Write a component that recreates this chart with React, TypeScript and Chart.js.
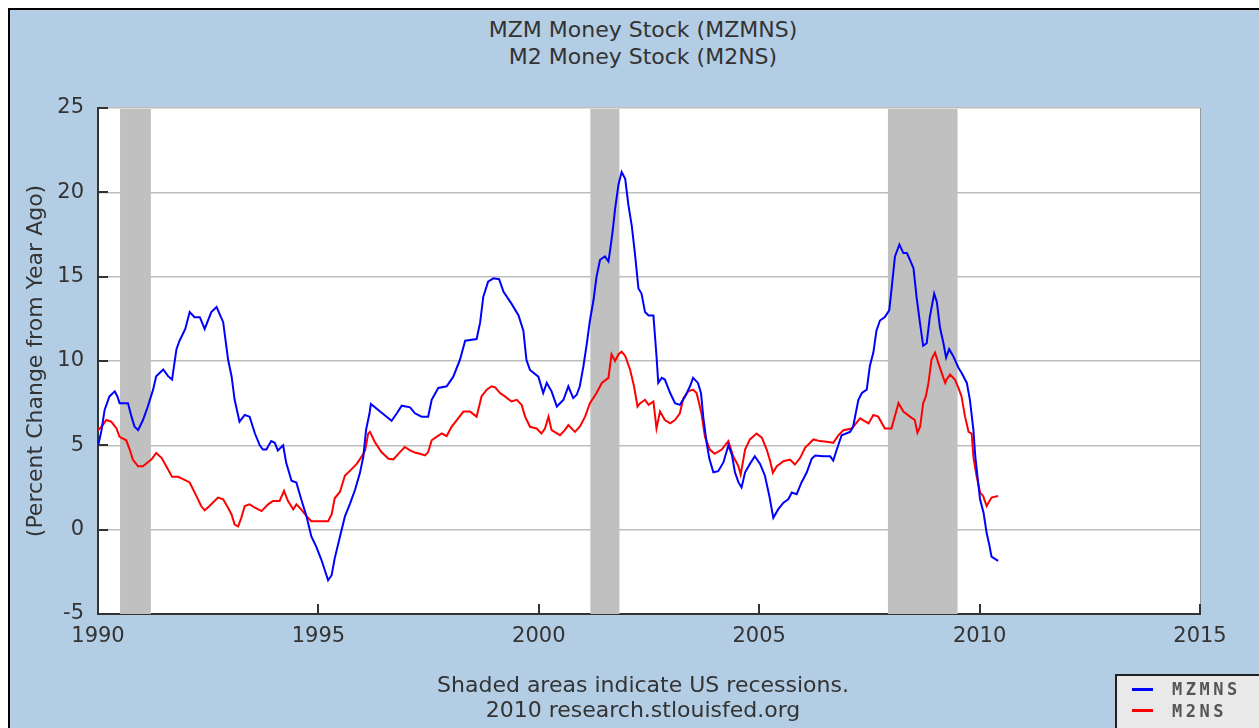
import React, { useEffect, useRef } from "react";
import { Chart, registerables } from "chart.js";

Chart.register(...registerables);

// ---- Data (percent change from year ago) ----
const mzmYears = [
  1990.0, 1990.08, 1990.15, 1990.26, 1990.38, 1990.44, 1990.49, 1990.68, 1990.76, 1990.83,
  1990.91, 1991.02, 1991.13, 1991.25, 1991.32, 1991.48, 1991.59, 1991.68, 1991.78, 1991.85,
  1991.98, 1992.08, 1992.19, 1992.31, 1992.42, 1992.57, 1992.69, 1992.84, 1992.95, 1993.03,
  1993.1, 1993.21, 1993.33, 1993.44, 1993.56, 1993.67, 1993.74, 1993.82, 1993.93, 1994.01,
  1994.08, 1994.2, 1994.27, 1994.39, 1994.5, 1994.61, 1994.73, 1994.84, 1994.95, 1995.07,
  1995.22, 1995.3, 1995.37, 1995.49, 1995.6, 1995.72, 1995.83, 1995.94, 1996.02, 1996.08,
  1996.16, 1996.19, 1996.4, 1996.66, 1996.78, 1996.89, 1997.08, 1997.19, 1997.34, 1997.49,
  1997.57, 1997.72, 1997.91, 1998.06, 1998.21, 1998.33, 1998.59, 1998.67, 1998.74, 1998.85,
  1998.97, 1999.1, 1999.2, 1999.38, 1999.54, 1999.65, 1999.72, 1999.8, 1999.99, 2000.1,
  2000.18, 2000.29, 2000.41, 2000.56, 2000.67, 2000.78, 2000.86, 2000.93, 2001.01, 2001.09,
  2001.16, 2001.24, 2001.31, 2001.39, 2001.5, 2001.58, 2001.62, 2001.68, 2001.73, 2001.81,
  2001.88, 2001.96, 2002.03, 2002.11, 2002.18, 2002.26, 2002.33, 2002.41, 2002.49, 2002.6,
  2002.67, 2002.71, 2002.79, 2002.86, 2002.98, 2003.09, 2003.2, 2003.32, 2003.43, 2003.5,
  2003.61, 2003.68, 2003.73, 2003.81, 2003.87, 2003.96, 2004.07, 2004.19, 2004.3, 2004.38,
  2004.45, 2004.53, 2004.6, 2004.68, 2004.79, 2004.9, 2005.02, 2005.13, 2005.23, 2005.32,
  2005.43, 2005.55, 2005.66, 2005.74, 2005.85, 2005.96, 2006.08, 2006.19, 2006.27, 2006.46,
  2006.61, 2006.68, 2006.76, 2006.87, 2007.06, 2007.13, 2007.25, 2007.33, 2007.44, 2007.51,
  2007.59, 2007.66, 2007.74, 2007.85, 2007.95, 2008.0, 2008.08, 2008.18, 2008.27, 2008.35,
  2008.42, 2008.5, 2008.57, 2008.65, 2008.72, 2008.8, 2008.87, 2008.97, 2009.03, 2009.1,
  2009.18, 2009.24, 2009.31, 2009.4, 2009.52, 2009.59, 2009.71, 2009.78, 2009.86, 2009.9,
  2009.95, 2010.01, 2010.09, 2010.16, 2010.22, 2010.27, 2010.42,
];
const mzmValues = [
  4.95, 5.9, 7.1, 7.9, 8.2, 7.9, 7.5, 7.5, 6.7, 6.1,
  5.9, 6.5, 7.3, 8.3, 9.1, 9.5, 9.1, 8.9, 10.7, 11.2,
  11.9, 12.9, 12.6, 12.6, 11.9, 12.9, 13.2, 12.3, 10.1, 9.1,
  7.7, 6.4, 6.8, 6.7, 5.7, 5.0, 4.75, 4.75, 5.25, 5.15,
  4.7, 5.0, 3.96, 2.9, 2.8, 1.8, 0.8, -0.4, -1.0, -1.8,
  -3.0, -2.7, -1.7, -0.4, 0.77, 1.56, 2.35, 3.34, 4.33, 5.9,
  6.9, 7.45, 7.0, 6.46, 6.9, 7.35, 7.25, 6.9, 6.7, 6.7,
  7.7, 8.4, 8.5, 9.07, 10.06, 11.2, 11.3, 12.3, 13.8, 14.7,
  14.9, 14.85, 14.1, 13.4, 12.7, 11.8, 10.06, 9.47, 9.07, 8.1,
  8.7, 8.2, 7.3, 7.7, 8.5, 7.8, 8.0, 8.5, 9.66, 11.05,
  12.4, 13.6, 15.0, 16.0, 16.2, 15.9, 16.6, 17.8, 19.0, 20.5,
  21.2, 20.8, 19.3, 18.0, 16.4, 14.3, 14.0, 12.9, 12.7, 12.7,
  10.3, 8.7, 9.0, 8.9, 8.1, 7.5, 7.4, 7.9, 8.5, 9.0,
  8.7, 8.1, 6.7, 5.1, 4.2, 3.4, 3.47, 4.0, 5.0, 4.45,
  3.4, 2.8, 2.5, 3.4, 3.9, 4.35, 3.9, 3.2, 2.0, 0.7,
  1.2, 1.6, 1.8, 2.2, 2.1, 2.8, 3.4, 4.2, 4.4, 4.35,
  4.35, 4.1, 4.75, 5.6, 5.8, 6.1, 7.7, 8.1, 8.3, 9.7,
  10.5, 11.8, 12.4, 12.6, 13.0, 14.2, 16.2, 16.9, 16.4, 16.4,
  16.0, 15.5, 13.8, 12.2, 10.9, 11.05, 12.6, 14.0, 13.5, 12.0,
  11.05, 10.2, 10.7, 10.3, 9.6, 9.3, 8.7, 7.7, 5.9, 4.4,
  3.2, 1.8, 1.0, -0.2, -0.9, -1.6, -1.85,
];

const m2Years = [
  1990.0, 1990.08, 1990.19, 1990.3, 1990.42, 1990.49, 1990.64, 1990.72, 1990.79, 1990.91,
  1991.02, 1991.13, 1991.21, 1991.32, 1991.44, 1991.55, 1991.68, 1991.82, 1991.93, 1992.08,
  1992.23, 1992.34, 1992.42, 1992.53, 1992.72, 1992.84, 1992.95, 1993.03, 1993.1, 1993.18,
  1993.25, 1993.33, 1993.44, 1993.56, 1993.71, 1993.86, 1993.97, 1994.12, 1994.22, 1994.31,
  1994.43, 1994.5, 1994.61, 1994.73, 1994.84, 1995.22, 1995.3, 1995.37, 1995.49, 1995.6,
  1995.72, 1995.87, 1995.98, 1996.06, 1996.13, 1996.17, 1996.28, 1996.43, 1996.59, 1996.7,
  1996.85, 1996.96, 1997.08, 1997.19, 1997.3, 1997.42, 1997.49, 1997.57, 1997.68, 1997.8,
  1997.91, 1998.02, 1998.14, 1998.29, 1998.44, 1998.59, 1998.7, 1998.82, 1998.93, 1999.01,
  1999.12, 1999.23, 1999.38, 1999.5, 1999.61, 1999.69, 1999.8, 1999.95, 2000.06, 2000.14,
  2000.22, 2000.29, 2000.48, 2000.59, 2000.67, 2000.82, 2000.93, 2001.05, 2001.16, 2001.31,
  2001.43, 2001.58, 2001.65, 2001.73, 2001.81, 2001.88, 2001.96, 2002.07, 2002.16, 2002.24,
  2002.3, 2002.41, 2002.49, 2002.6, 2002.67, 2002.75, 2002.86, 2002.98, 2003.09, 2003.2,
  2003.28, 2003.39, 2003.5, 2003.58, 2003.69, 2003.77, 2003.88, 2003.99, 2004.15, 2004.3,
  2004.41, 2004.53, 2004.58, 2004.68, 2004.79, 2004.94, 2005.06, 2005.17, 2005.25, 2005.31,
  2005.4, 2005.55, 2005.7, 2005.81, 2005.93, 2006.04, 2006.23, 2006.38, 2006.57, 2006.68,
  2006.8, 2006.91, 2007.1, 2007.29, 2007.48, 2007.59, 2007.7, 2007.85, 2008.0, 2008.16,
  2008.27, 2008.42, 2008.53, 2008.59, 2008.65, 2008.72, 2008.78, 2008.84, 2008.91, 2008.99,
  2009.06, 2009.14, 2009.22, 2009.25, 2009.33, 2009.44, 2009.52, 2009.59, 2009.67, 2009.75,
  2009.82, 2009.86, 2009.93, 2010.01, 2010.08, 2010.16, 2010.27, 2010.42,
];
const m2Values = [
  5.9, 6.1, 6.5, 6.4, 6.0, 5.5, 5.3, 4.75, 4.16, 3.76,
  3.76, 4.0, 4.16, 4.55, 4.26, 3.76, 3.13, 3.13, 3.0, 2.8,
  2.0, 1.4, 1.15, 1.4, 1.9, 1.8, 1.3, 0.9, 0.3, 0.2,
  0.7, 1.4, 1.5, 1.3, 1.1, 1.5, 1.7, 1.7, 2.3, 1.7,
  1.2, 1.5, 1.2, 0.8, 0.5, 0.5, 0.9, 1.86, 2.25, 3.2,
  3.5, 3.9, 4.33, 4.7, 5.7, 5.8, 5.2, 4.6, 4.2, 4.17,
  4.6, 4.9, 4.7, 4.57, 4.5, 4.4, 4.6, 5.3, 5.5, 5.7,
  5.55, 6.1, 6.5, 7.0, 7.0, 6.7, 7.9, 8.3, 8.5, 8.44,
  8.1, 7.9, 7.6, 7.7, 7.4, 6.7, 6.1, 6.0, 5.7, 6.0,
  6.7, 5.9, 5.6, 5.9, 6.2, 5.8, 6.1, 6.7, 7.5, 8.1,
  8.7, 9.0, 10.4, 10.0, 10.4, 10.55, 10.3, 9.5, 8.5, 7.3,
  7.5, 7.7, 7.4, 7.6, 6.0, 7.0, 6.5, 6.3, 6.5, 6.9,
  7.8, 8.2, 8.3, 8.1, 6.9, 5.5, 4.75, 4.5, 4.75, 5.25,
  4.35, 3.76, 3.27, 4.75, 5.35, 5.7, 5.45, 4.75, 4.06, 3.37,
  3.76, 4.06, 4.16, 3.86, 4.26, 4.85, 5.35, 5.25, 5.2, 5.15,
  5.6, 5.9, 6.0, 6.6, 6.3, 6.8, 6.7, 6.0, 6.0, 7.5,
  7.0, 6.7, 6.5, 5.75, 6.1, 7.5, 7.9, 8.7, 10.1, 10.5,
  9.9, 9.3, 8.7, 8.9, 9.2, 8.9, 8.4, 7.9, 6.7, 5.8,
  5.7, 4.3, 3.2, 2.2, 2.0, 1.4, 1.9, 2.0,
];

const recessionStarts = [1990.5, 2001.17, 2007.92];
const recessionEnds = [1991.2, 2001.83, 2009.5];

const yTickValues = [-5, 0, 5, 10, 15, 20, 25];
const xTickValues = [1990, 1995, 2000, 2005, 2010, 2015];

const titleLines = ["MZM Money Stock (MZMNS)", "M2 Money Stock (M2NS)"];
const footerLines = ["Shaded areas indicate US recessions.", "2010 research.stlouisfed.org"];
const seriesLabels = ["MZMNS", "M2NS"];
const seriesColors = ["#0000ff", "#ff0000"];

const FONT = "'DejaVu Sans', Verdana, sans-serif";
const TEXT = "#333333";

const recessionPlugin = {
  id: "recessions",
  beforeDraw(chart: any) {
    const { ctx, chartArea } = chart;
    ctx.save();
    ctx.fillStyle = "#ffffff";
    ctx.fillRect(chartArea.left, chartArea.top, chartArea.right - chartArea.left, chartArea.bottom - chartArea.top);
    ctx.restore();
  },
  beforeDatasetsDraw(chart: any) {
    const { ctx, chartArea, scales } = chart;
    const xs = scales.x;
    ctx.save();
    ctx.fillStyle = "#c0c0c0";
    for (let i = 0; i < recessionStarts.length; i++) {
      const a = xs.getPixelForValue(recessionStarts[i]);
      const b = xs.getPixelForValue(recessionEnds[i]);
      ctx.fillRect(a, chartArea.top + 1, b - a, chartArea.bottom - chartArea.top - 1);
    }
    ctx.restore();
  },
  afterDraw(chart: any) {
    const { ctx, chartArea, scales } = chart;
    ctx.save();
    // right border
    ctx.strokeStyle = "#9a9a9a";
    ctx.lineWidth = 1;
    ctx.beginPath();
    ctx.moveTo(chartArea.right + 0.5, chartArea.top);
    ctx.lineTo(chartArea.right + 0.5, chartArea.bottom);
    ctx.stroke();
    // inside tick marks
    ctx.strokeStyle = "#333333";
    ctx.lineWidth = 2;
    ctx.beginPath();
    for (const v of yTickValues) {
      const y = Math.round(scales.y.getPixelForValue(v));
      ctx.moveTo(chartArea.left, y);
      ctx.lineTo(chartArea.left + 10, y);
    }
    for (const v of xTickValues) {
      const x = Math.round(scales.x.getPixelForValue(v));
      ctx.moveTo(x, chartArea.bottom);
      ctx.lineTo(x, chartArea.bottom - 10);
    }
    ctx.stroke();
    ctx.restore();
  },
};

export default function App() {
  const canvasRef = useRef<HTMLCanvasElement | null>(null);

  useEffect(() => {
    if (!canvasRef.current) return;
    const chart = new Chart(canvasRef.current, {
      type: "line",
      data: {
        datasets: [
          {
            label: seriesLabels[0],
            data: mzmYears.map((x, i) => ({ x, y: mzmValues[i] })),
            borderColor: seriesColors[0],
            borderWidth: 2,
            pointRadius: 0,
            fill: false,
            tension: 0,
          },
          {
            label: seriesLabels[1],
            data: m2Years.map((x, i) => ({ x, y: m2Values[i] })),
            borderColor: seriesColors[1],
            borderWidth: 2,
            pointRadius: 0,
            fill: false,
            tension: 0,
          },
        ],
      },
      options: {
        responsive: false,
        animation: false,
        devicePixelRatio: 1,
        layout: { padding: { left: 0, top: 98, right: 60, bottom: 76 } },
        plugins: {
          legend: { display: false },
          title: { display: false },
          tooltip: { enabled: false },
        },
        scales: {
          x: {
            type: "linear",
            min: 1990,
            max: 2015,
            afterFit: (s: any) => {
              s.height = 40;
            },
            ticks: {
              stepSize: 5,
              maxRotation: 0,
              autoSkip: false,
              padding: 10,
              color: TEXT,
              font: { family: FONT, size: 21 },
              callback: (v: any) => String(v),
            },
            grid: { display: false, drawTicks: false },
            border: { display: true, color: "#333333", width: 2 },
          },
          y: {
            type: "linear",
            min: -5,
            max: 25,
            afterFit: (s: any) => {
              s.width = 88;
            },
            ticks: {
              stepSize: 5,
              padding: 14,
              color: TEXT,
              font: { family: FONT, size: 21 },
            },
            grid: { color: "#bdbdbd", lineWidth: 1.5, drawTicks: false },
            border: { display: true, color: "#333333", width: 2 },
            title: {
              display: true,
              text: "(Percent Change from Year Ago)",
              color: TEXT,
              font: { family: FONT, size: 22 },
              padding: { top: 13, bottom: 0 },
            },
          },
        },
      },
      plugins: [recessionPlugin],
    } as any);
    return () => chart.destroy();
  }, []);

  return (
    <div
      style={{
        position: "fixed",
        left: 8,
        top: 8,
        width: 1251,
        height: 720,
        overflow: "hidden",
      }}
    >
      <div
        style={{
          position: "absolute",
          left: 0,
          top: 0,
          width: 1266,
          height: 740,
          border: "2px solid #000",
          background: "#b3cde4",
          fontFamily: FONT,
          color: TEXT,
        }}
      >
        <div
          style={{
            position: "absolute",
            left: 0,
            top: 6,
            width: 1266,
            textAlign: "center",
            fontSize: 22,
            lineHeight: "27px",
          }}
        >
          {titleLines.map((t) => (
            <div key={t}>{t}</div>
          ))}
        </div>
        <canvas
          ref={canvasRef}
          width={1250}
          height={720}
          style={{ position: "absolute", left: 0, top: 0, width: 1250, height: 720 }}
        />
        <div
          style={{
            position: "absolute",
            left: 0,
            top: 662,
            width: 1266,
            textAlign: "center",
            fontSize: 22,
            lineHeight: "25px",
          }}
        >
          {footerLines.map((t) => (
            <div key={t}>{t}</div>
          ))}
        </div>
        <div
          style={{
            position: "absolute",
            left: 1105,
            top: 664,
            width: 200,
            height: 60,
            border: "2px solid #222",
            background: "#e9e9e9",
          }}
        >
          {seriesLabels.map((lab, i) => (
            <div
              key={lab}
              style={{
                position: "absolute",
                left: 15,
                top: 3 + i * 21.5,
                height: 20,
                display: "flex",
                alignItems: "center",
              }}
            >
              <span
                style={{
                  display: "inline-block",
                  width: 21,
                  height: 3,
                  background: seriesColors[i],
                  marginRight: 19,
                }}
              />
              <span
                style={{
                  fontFamily: "'DejaVu Sans Mono', monospace",
                  fontWeight: "bold",
                  fontSize: 17,
                  letterSpacing: "3.5px",
                  color: "#555555",
                }}
              >
                {lab}
              </span>
            </div>
          ))}
        </div>
      </div>
    </div>
  );
}
